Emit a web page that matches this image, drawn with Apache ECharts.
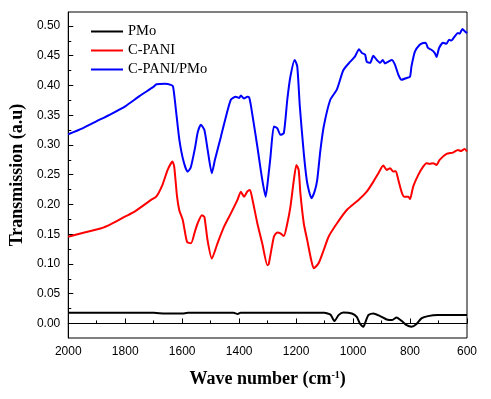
<!DOCTYPE html>
<html>
<head>
<meta charset="utf-8">
<script src="https://cdn.jsdelivr.net/npm/echarts@6/dist/echarts.min.js"></script>
<style>
html,body{margin:0;padding:0;background:#fff;}
#chart{width:491px;height:399px;}
</style>
</head>
<body>
<div id="chart"></div>
<script>
// ---- Data (wavenumber in cm^-1, transmission in a.u) ----
const seriesNames = ['PMo', 'C-PANI', 'C-PANI/PMo'];

const pmoX = [2000,1700,1660,1600,1580,1420,1405,1395,1100,1092,1079,1065,1051,1034,1004,987,975,964,954,946,929,905,882,864,847,830,812,795,777,760,737,702,600];
const pmoY = [0.018,0.018,0.0165,0.0165,0.018,0.018,0.016,0.018,0.018,0.017,0.0146,0.004,0.014,0.0185,0.0168,0.011,-0.001,-0.0057,0.0056,0.014,0.0168,0.0123,0.0067,0.0056,0.010,0.0044,-0.003,-0.0057,-0.001,0.0084,0.0123,0.014,0.014];

const cpaniX = [2000,1950,1884,1850,1801,1767,1709,1691,1670,1651,1634,1628,1618,1610,1598,1583,1569,1555,1546,1531,1522,1511,1496,1476,1453,1429,1406,1394,1383,1371,1362,1354,1336,1319,1301,1296,1278,1266,1255,1243,1231,1220,1208,1199,1191,1185,1173,1161,1147,1138,1121,1103,1086,1057,1022,981,952,929,911,894,882,870,859,850,841,830,821,806,800,789,771,754,742,731,719,707,696,672,649,632,621,608,600];
const cpaniY = [0.1458,0.152,0.160,0.167,0.1795,0.188,0.2076,0.213,0.232,0.258,0.272,0.2636,0.213,0.19,0.174,0.137,0.1347,0.155,0.168,0.182,0.179,0.140,0.109,0.1347,0.1626,0.185,0.2076,0.2215,0.213,0.222,0.2244,0.210,0.168,0.1347,0.098,0.100,0.1458,0.153,0.1515,0.147,0.168,0.196,0.241,0.2665,0.258,0.219,0.168,0.140,0.1066,0.0926,0.101,0.1234,0.1458,0.168,0.1907,0.2076,0.2215,0.238,0.2525,0.2653,0.258,0.261,0.2552,0.256,0.241,0.2215,0.213,0.213,0.209,0.230,0.2497,0.2636,0.2694,0.268,0.2694,0.2665,0.275,0.285,0.2872,0.2917,0.2897,0.2934,0.289];

const hybridX = [2000,1950,1900,1850,1800,1750,1700,1690,1660,1640,1632,1622,1610,1595,1581,1570,1555,1545,1534,1522,1510,1496,1485,1464,1445,1429,1412,1400,1394,1383,1371,1365,1360,1350,1336,1320,1307,1298,1290,1278,1266,1255,1243,1231,1220,1205,1196,1187,1173,1161,1146,1135,1126,1115,1103,1080,1057,1034,1010,993,979,969,958,952,940,929,917,905,896,888,876,864,853,841,830,812,800,795,783,766,754,745,737,725,713,707,698,684,672,663,655,643,632,626,616,608,600];
const hybridY = [0.318,0.328,0.340,0.352,0.365,0.382,0.398,0.402,0.403,0.401,0.398,0.359,0.309,0.272,0.255,0.262,0.295,0.322,0.334,0.325,0.290,0.2525,0.275,0.314,0.35,0.376,0.381,0.379,0.383,0.378,0.381,0.380,0.370,0.340,0.297,0.245,0.213,0.245,0.280,0.331,0.328,0.317,0.320,0.376,0.415,0.443,0.432,0.365,0.286,0.236,0.2105,0.222,0.241,0.29,0.331,0.376,0.393,0.426,0.440,0.449,0.461,0.4545,0.452,0.440,0.438,0.450,0.443,0.438,0.443,0.437,0.440,0.443,0.435,0.418,0.4096,0.4125,0.415,0.432,0.457,0.4685,0.4714,0.472,0.463,0.460,0.4545,0.448,0.463,0.472,0.470,0.477,0.4756,0.4825,0.488,0.487,0.495,0.491,0.488];

const yMajorTicks = [0.00,0.05,0.10,0.15,0.20,0.25,0.30,0.35,0.40,0.45,0.50];
const yMinorTicks = [0.025,0.075,0.125,0.175,0.225,0.275,0.325,0.375,0.425,0.475];

// ---- Chart ----
function zip(xs, ys){ return xs.map((x,i)=>[x, ys[i]]); }

const chart = echarts.init(document.getElementById('chart'), null, {renderer:'canvas'});
const serif = '"Liberation Serif", "Times New Roman", serif';
const sans = '"Liberation Sans", Arial, sans-serif';
const colors = ['#000000', '#ff0000', '#0000ff'];

const option = {
  backgroundColor: '#ffffff',
  animation: false,
  color: colors,
  grid: {
    left: 67, right: 24, top: 12, bottom: 61,
    show: true, borderColor: '#000', borderWidth: 1, backgroundColor: 'transparent'
  },
  legend: {
    orient: 'vertical',
    left: 86, top: 19,
    itemWidth: 32, itemHeight: 14, itemGap: 4,
    icon: 'path://M0,6 L32,6 L32,8 L0,8 Z',
    textStyle: {fontFamily: serif, fontSize: 14.5, color: '#000', lineHeight: 14},
    data: seriesNames
  },
  xAxis: {
    type: 'value', inverse: true, min: 600, max: 2000, interval: 200,
    name: 'Wave number (cm{sup|-1})',
    nameLocation: 'middle', nameGap: 32,
    nameTextStyle: {
      fontFamily: serif, fontSize: 18, fontWeight: 'bold', color: '#000',
      rich: {sup: {fontFamily: serif, fontSize: 10, fontWeight: 'bold', color: '#000', verticalAlign: 'top', padding:[0,0,8,0]}}
    },
    axisLine: {show: true, lineStyle: {color: '#000', width: 1}},
    axisTick: {show: true, inside: true, length: 5, lineStyle: {color: '#000'}},
    minorTick: {show: true, splitNumber: 2, length: 3, lineStyle: {color: '#000'}},
    axisLabel: {fontFamily: sans, fontSize: 12, color: '#000', margin: 8, formatter: v => String(v)},
    splitLine: {show: false}
  },
  yAxis: [{
    type: 'value', min: -0.0245, max: 0.5235,
    name: 'Transmission (a.u)',
    nameLocation: 'middle', nameGap: 42, nameRotate: 90,
    nameTextStyle: {fontFamily: serif, fontSize: 18, fontWeight: 'bold', color: '#000'},
    axisLine: {show: true, lineStyle: {color: '#000', width: 1}},
    axisTick: {show: true, inside: true, length: 5, lineStyle: {color: '#000'}, customValues: yMajorTicks},
    axisLabel: {fontFamily: sans, fontSize: 12, color: '#000', margin: 8, customValues: yMajorTicks,
      formatter: v => v.toFixed(2)},
    splitLine: {show: false}
  }, {
    type: 'value', min: -0.0245, max: 0.5235, position: 'left',
    axisLine: {show: false},
    axisTick: {show: true, inside: true, length: 3, lineStyle: {color: '#000'}, customValues: yMinorTicks},
    axisLabel: {show: false},
    splitLine: {show: false}
  }],
  series: [
    {name: seriesNames[0], type: 'line', data: zip(pmoX, pmoY), symbol: 'none', smooth: 0.2, lineStyle: {width: 2, color: colors[0]}},
    {name: seriesNames[1], type: 'line', data: zip(cpaniX, cpaniY), symbol: 'none', smooth: 0.2, lineStyle: {width: 2, color: colors[1]}},
    {name: seriesNames[2], type: 'line', data: zip(hybridX, hybridY), symbol: 'none', smooth: 0.2, lineStyle: {width: 2, color: colors[2]}}
  ]
};
chart.setOption(option);
</script>
</body>
</html>
